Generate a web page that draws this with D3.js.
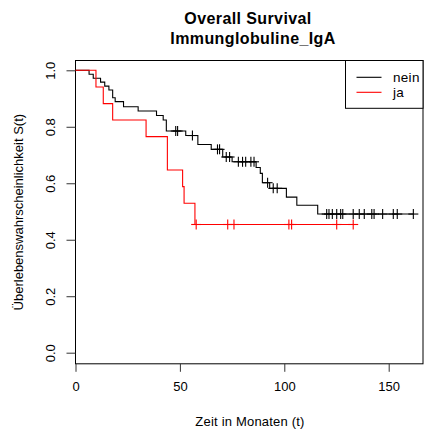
<!DOCTYPE html>
<html>
<head>
<meta charset="utf-8">
<script src="https://cdn.jsdelivr.net/npm/d3@7"></script>
<style>
  html, body { margin: 0; padding: 0; background: #fff; }
  svg { display: block; }
  text { font-family: "Liberation Sans", Arial, sans-serif; fill: #000; }
</style>
</head>
<body>
<svg id="chart" width="424" height="432"></svg>
<script>
// ---- Data ----
const titleLines = ["Overall Survival", "Immunglobuline_IgA"];
const xLabel = "Zeit in Monaten (t)";
const yLabel = "Überlebenswahrscheinlichkeit S(t)";
const xTicks = [0, 50, 100, 150];
const yTicks = [0.0, 0.2, 0.4, 0.6, 0.8, 1.0];
const groups = ["nein", "ja"];
const groupColors = ["#000000", "#ff0000"];

// group "nein": event times and survival after each step
const neinTimes = [0, 6.5, 8.5, 12, 14, 16, 17.8, 19, 23, 30, 38.8, 42, 43.5, 52.8, 58.6, 65, 70.5, 75, 86.5, 88.5, 89.5, 93, 101, 106, 116];
const neinSurv  = [1, 0.986, 0.972, 0.958, 0.944, 0.930, 0.903, 0.889, 0.871, 0.856, 0.840, 0.824, 0.785, 0.769, 0.737, 0.720, 0.693, 0.676, 0.656, 0.635, 0.602, 0.582, 0.551, 0.522, 0.491];
const neinCensor = [48, 48.9, 56, 68, 69, 72.2, 73.8, 78, 80, 81.5, 84, 85.5, 92, 94.7, 96.6, 120.3, 121.4, 123, 125.1, 127, 128, 133, 135.9, 138.3, 141.9, 143, 147.1, 152.2, 154.1, 161.8];

// group "ja"
const jaTimes = [0, 9.8, 13.3, 17.8, 33.8, 44, 51.3, 52, 57.2];
const jaSurv  = [1, 0.941, 0.882, 0.824, 0.765, 0.647, 0.588, 0.529, 0.454];
const jaCensor = [57.8, 72.9, 75.9, 102.2, 103.5, 125.1, 133];

// ---- Layout ----
const svg = d3.select("#chart");
const x = d3.scaleLinear().domain([0, 150]).range([75.5, 388.7]);
const y = d3.scaleLinear().domain([0, 1]).range([352.7, 70.3]);
const boxL = 75.5, boxR = 423, boxT = 60.5, boxB = 363.8;

// box
svg.append("rect").attr("x", boxL).attr("y", boxT)
  .attr("width", boxR - boxL).attr("height", boxB - boxT)
  .attr("fill", "none").attr("stroke", "#000").attr("stroke-width", 1);

// x axis
const xAxis = d3.axisBottom(x).tickValues(xTicks).tickSize(8).tickPadding(10).tickFormat(d3.format("d"));
const gx = svg.append("g").attr("transform", `translate(0,${boxB})`).call(xAxis);
gx.select(".domain").remove();
gx.selectAll("line").attr("stroke", "#333");
gx.selectAll("text").attr("font-size", 13).attr("font-family", "Liberation Sans, Arial, sans-serif").attr("fill", "#000");

// y axis
const yAxis = d3.axisLeft(y).tickValues(yTicks).tickSize(9).tickFormat(d3.format(".1f"));
const gy = svg.append("g").attr("transform", `translate(${boxL},0)`).call(yAxis);
gy.select(".domain").remove();
gy.selectAll("line").attr("stroke", "#333");
gy.selectAll("text")
  .attr("font-size", 13).attr("font-family", "Liberation Sans, Arial, sans-serif").attr("fill", "#000")
  .attr("x", null).attr("dy", null)
  .attr("text-anchor", "middle")
  .attr("transform", "translate(-21,0) rotate(-90)")
  .attr("y", 0);

// titles
svg.append("text").attr("x", 248).attr("y", 24).attr("text-anchor", "middle")
  .attr("font-size", 16).attr("letter-spacing", 0.4).attr("font-weight", "bold").text(titleLines[0]);
svg.append("text").attr("x", 253).attr("y", 44).attr("text-anchor", "middle")
  .attr("font-size", 16).attr("letter-spacing", 0.4).attr("font-weight", "bold").text(titleLines[1]);

// axis labels
svg.append("text").attr("x", 250).attr("y", 426).attr("text-anchor", "middle")
  .attr("font-size", 13).attr("letter-spacing", 0.2).text(xLabel);
svg.append("text").attr("transform", `translate(23,${(boxT + boxB) / 2}) rotate(-90)`)
  .attr("text-anchor", "middle").attr("font-size", 13).text(yLabel);

// curves
function survAt(times, surv, t) {
  let s = surv[0];
  for (let i = 0; i < times.length; i++) if (times[i] <= t) s = surv[i];
  return s;
}
const series = [
  {times: neinTimes, surv: neinSurv, censor: neinCensor, color: groupColors[0]},
  {times: jaTimes, surv: jaSurv, censor: jaCensor, color: groupColors[1]}
];
const line = d3.line().x(d => x(d[0])).y(d => y(d[1])).curve(d3.curveStepAfter);
series.forEach(s => {
  const end = Math.max(s.times[s.times.length - 1], d3.max(s.censor));
  const pts = s.times.map((t, i) => [t, s.surv[i]]);
  pts.push([end, s.surv[s.surv.length - 1]]);
  svg.append("path").attr("d", line(pts)).attr("fill", "none")
    .attr("stroke", s.color).attr("stroke-width", 1.1);
  const g = svg.append("g").attr("stroke", s.color).attr("stroke-width", 1.1);
  s.censor.forEach(t => {
    const cx = x(t), cy = y(survAt(s.times, s.surv, t));
    g.append("line").attr("x1", cx).attr("x2", cx).attr("y1", cy - 5).attr("y2", cy + 5);
    g.append("line").attr("x1", cx - 5).attr("x2", cx + 5).attr("y1", cy).attr("y2", cy);
  });
});

// legend
const lg = svg.append("g");
lg.append("rect").attr("x", 345.5).attr("y", boxT).attr("width", boxR - 345.5).attr("height", 108.3 - boxT)
  .attr("fill", "#fff").attr("stroke", "#000").attr("stroke-width", 1);
groups.forEach((gname, i) => {
  const ly = 77.3 + i * 15;
  lg.append("line").attr("x1", 356.5).attr("x2", 381.5).attr("y1", ly).attr("y2", ly)
    .attr("stroke", groupColors[i]).attr("stroke-width", 1.1);
  lg.append("text").attr("x", 393).attr("y", ly + 4.5).attr("font-size", 13.5).attr("letter-spacing", 0.3).text(gname);
});
</script>
</body>
</html>
